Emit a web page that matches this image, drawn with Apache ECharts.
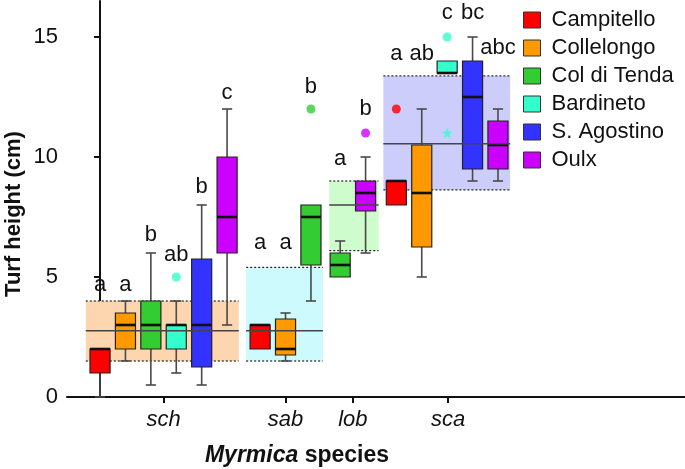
<!DOCTYPE html>
<html><head><meta charset="utf-8">
<script src="https://cdn.jsdelivr.net/npm/echarts@6/dist/echarts.min.js"></script>
<style>html,body{margin:0;padding:0;background:#fff}#c{width:685px;height:469px}</style>
</head><body><div id="c"></div>
<script>
// ---------- data ----------
const sites = ['Campitello', 'Collelongo', 'Col di Tenda', 'Bardineto', 'S. Agostino', 'Oulx'];
const siteColors = ['#ff0000', '#ff9900', '#33cc33', '#33ffcc', '#3333ff', '#cc00ff'];
const speciesNames = ['sch', 'sab', 'lob', 'sca'];
const speciesTickX = [2.5, 7.3, 9.95, 13.7];
const yTicks = [0, 5, 10, 15];

// box rows: [x position, lower whisker, Q1, median, Q3, upper whisker]
const campitello = [[0, 0, 1, 2, 2, 2], [6.3, 2, 2, 3, 3, 3], [11.66, 8, 8, 9, 9, 9]];
const collelongo = [[1, 1.5, 2, 3, 3.5, 4], [7.3, 1.5, 1.75, 2, 3.25, 3.5], [12.66, 5, 6.25, 8.5, 10.5, 12]];
const colDiTenda = [[2, 0.5, 2, 3, 4, 6], [8.3, 4, 5.5, 7.5, 8, 8], [9.45, 5, 5, 5.5, 6, 6.5]];
const bardineto = [[3, 1, 2, 3, 3, 4], [13.66, 13.5, 13.5, 13.5, 14, 14]];
const sAgostino = [[4, 0.5, 1.25, 3, 5.75, 8], [14.66, 9, 9.5, 12.5, 14, 15]];
const oulx = [[5, 3, 6, 7.5, 10, 12], [10.45, 6, 7.75, 8.5, 9, 10], [15.66, 9, 9.5, 10.5, 11.5, 12]];

// significance letters per box: [text, baseline height]
const campitelloLetters = [['a', 4.35], ['a', 6.1], ['a', 13.97]];
const collelongoLetters = [['a', 4.35], ['a', 6.1], ['ab', 13.97]];
const colDiTendaLetters = [['b', 6.45], ['b', 12.6], ['a', 9.6]];
const bardinetoLetters = [['ab', 5.61], ['c', 15.68]];
const sAgostinoLetters = [['b', 8.42], ['bc', 15.68]];
const oulxLetters = [['c', 12.35], ['b', 11.68], ['abc', 14.25]];

// outliers: [x, value]
const campitelloOutliers = [[11.66, 12]];
const colDiTendaOutliers = [[8.3, 12]];
const bardinetoOutliers = [[3, 5], [13.66, 15]];
const bardinetoStars = [[13.66, 11]];
const oulxOutliers = [[10.45, 11]];

// species bands: [x from, x to, lower, upper, mean]
const bandSch = [-0.56, 5.46, 1.5, 4.0, 2.76];
const bandSab = [5.75, 8.77, 1.5, 5.4, 2.76];
const bandLob = [9.02, 10.96, 6.1, 9.0, 8.0];
const bandSca = [11.15, 16.14, 8.63, 13.38, 10.55];
const bandColors = ['#fdd5ae', '#cdfafd', '#cffccd', '#cdcdfb'];

// ---------- chart ----------
const FONT = 'Liberation Sans, Arial, sans-serif';
const BOX_W = 0.79, CAP_W = 0.4;
const STAR = 'path://M0,-10L2.35,-3.24L9.51,-3.09L3.8,1.24L5.88,8.09L0,4L-5.88,8.09L-3.8,1.24L-9.51,-3.09L-2.35,-3.24Z';
const boxSets = [campitello, collelongo, colDiTenda, bardineto, sAgostino, oulx];
const letterSets = [campitelloLetters, collelongoLetters, colDiTendaLetters, bardinetoLetters, sAgostinoLetters, oulxLetters];
const outlierSets = [campitelloOutliers, [], colDiTendaOutliers, bardinetoOutliers, [], oulxOutliers];
const bands = [bandSch, bandSab, bandLob, bandSca];

function boxRender(params, api) {
  const x = api.value(0), lo = api.value(1), q1 = api.value(2), md = api.value(3), q3 = api.value(4), hi = api.value(5);
  const cx = api.coord([x, md])[0];
  const y = v => api.coord([x, v])[1];
  const hw = api.size([BOX_W, 0])[0] / 2, cw = api.size([CAP_W, 0])[0] / 2;
  const wStyle = {stroke: '#4a4a4a', lineWidth: 1.6};
  const ch = [];
  if (hi > q3) {
    ch.push({type: 'line', shape: {x1: cx, y1: y(q3), x2: cx, y2: y(hi)}, style: wStyle});
    ch.push({type: 'line', shape: {x1: cx - cw, y1: y(hi), x2: cx + cw, y2: y(hi)}, style: wStyle});
  }
  if (lo < q1) {
    ch.push({type: 'line', shape: {x1: cx, y1: y(q1), x2: cx, y2: y(lo)}, style: wStyle});
    ch.push({type: 'line', shape: {x1: cx - cw, y1: y(lo), x2: cx + cw, y2: y(lo)}, style: wStyle});
  }
  ch.push({type: 'rect', shape: {x: cx - hw, y: y(q3), width: 2 * hw, height: y(q1) - y(q3)},
    style: {fill: api.visual('color'), stroke: '#222', lineWidth: 1.2}});
  ch.push({type: 'line', shape: {x1: cx - hw, y1: y(md), x2: cx + hw, y2: y(md)}, style: {stroke: '#111', lineWidth: 2.6}});
  return {type: 'group', children: ch};
}

const series = [];
series.push({
  type: 'custom', name: 'bands', z: 1, silent: true,
  data: bands, encode: {x: [0, 1], y: [2, 3]},
  renderItem: (params, api) => {
    const p0 = api.coord([api.value(0), api.value(3)]);
    const p1 = api.coord([api.value(1), api.value(2)]);
    const dot = {stroke: '#222', lineWidth: 1.2, lineDash: [2, 2]};
    return {type: 'group', children: [
      {type: 'rect', shape: {x: p0[0], y: p0[1], width: p1[0] - p0[0], height: p1[1] - p0[1]}, style: {fill: bandColors[params.dataIndex]}},
      {type: 'line', shape: {x1: p0[0], y1: p0[1], x2: p1[0], y2: p0[1]}, style: dot},
      {type: 'line', shape: {x1: p0[0], y1: p1[1], x2: p1[0], y2: p1[1]}, style: dot}
    ]};
  }
});
sites.forEach((s, i) => {
  series.push({type: 'custom', name: s, z: 3, data: boxSets[i], encode: {x: 0, y: [1, 2, 3, 4, 5]},
    itemStyle: {color: siteColors[i]}, renderItem: boxRender});
});
sites.forEach((s, i) => {
  if (outlierSets[i].length) series.push({type: 'scatter', name: s, z: 4, data: outlierSets[i], symbol: 'circle', symbolSize: 9,
    itemStyle: {color: siteColors[i]}, silent: true});
});
series.push({type: 'scatter', name: 'Bardineto', z: 4, data: bardinetoStars, symbol: STAR, symbolSize: 11,
  itemStyle: {color: siteColors[3]}, silent: true});
series.push({
  type: 'custom', name: 'means', z: 5, silent: true,
  data: bands, encode: {x: [0, 1], y: 4},
  renderItem: (params, api) => {
    const a = api.coord([api.value(0), api.value(4)]);
    const b = api.coord([api.value(1), api.value(4)]);
    return {type: 'line', shape: {x1: a[0], y1: a[1], x2: b[0], y2: b[1]}, style: {stroke: '#444', lineWidth: 1.5}};
  }
});
const letterRows = [];
boxSets.forEach((set, i) => set.forEach((row, j) => letterRows.push([row[0], letterSets[i][j][1], letterSets[i][j][0]])));
series.push({
  type: 'custom', name: 'letters', z: 6, silent: true,
  data: letterRows.map(r => [r[0], r[1]]), encode: {x: 0, y: 1},
  renderItem: (params, api) => {
    const p = api.coord([api.value(0), api.value(1)]);
    return {type: 'text', x: p[0], y: p[1] - 7.5,
      style: {text: letterRows[params.dataIndex][2], fontSize: 22, fontFamily: FONT, fill: '#111', align: 'center', verticalAlign: 'middle'}};
  }
});

const chart = echarts.init(document.getElementById('c'), null, {renderer: 'canvas'});
chart.setOption({
  animation: false,
  backgroundColor: '#fff',
  grid: {left: 67, right: 0, top: 1, bottom: 72, containLabel: false},
  xAxis: {
    type: 'value', min: -1.3, max: 23.02,
    splitLine: {show: false},
    axisLine: {lineStyle: {color: '#111', width: 2}},
    axisTick: {customValues: speciesTickX, length: 6, lineStyle: {color: '#111', width: 2}},
    axisLabel: {customValues: speciesTickX, margin: 12, fontSize: 22, fontStyle: 'italic', fontFamily: FONT, color: '#111',
      formatter: v => { const k = speciesTickX.findIndex(t => Math.abs(t - v) < 1e-6); return k >= 0 ? speciesNames[k] : ''; }}
  },
  yAxis: {
    type: 'value', min: 0, max: 16.5, interval: 5,
    splitLine: {show: false},
    axisLine: {show: true, lineStyle: {color: '#111', width: 2}},
    axisTick: {show: true, customValues: yTicks, length: 6, lineStyle: {color: '#111', width: 2}},
    axisLabel: {customValues: yTicks, margin: 9, fontSize: 22, fontFamily: FONT, color: '#111'}
  },
  legend: {
    data: sites, orient: 'vertical', left: 518, top: 4, icon: 'rect',
    itemWidth: 17, itemHeight: 16, itemGap: 6, selectedMode: false,
    itemStyle: {borderColor: '#333', borderWidth: 1},
    textStyle: {fontSize: 22, fontFamily: FONT, color: '#111', lineHeight: 22, padding: [0, 0, 0, 6]}
  },
  graphic: [
    {type: 'text', x: 14, y: 214, rotation: Math.PI / 2,
      style: {text: 'Turf height (cm)', fontSize: 22, fontWeight: 'bold', fontFamily: FONT, fill: '#111', align: 'center', verticalAlign: 'middle'}},
    {type: 'text', x: 297, y: 456,
      style: {text: '{i|Myrmica} species', fontSize: 23, fontWeight: 'bold', fontFamily: FONT, fill: '#111', align: 'center', verticalAlign: 'middle',
        rich: {i: {fontStyle: 'italic', fontWeight: 'bold', fontSize: 23, fontFamily: FONT, fill: '#111'}}}}
  ],
  series: series
});
</script></body></html>
